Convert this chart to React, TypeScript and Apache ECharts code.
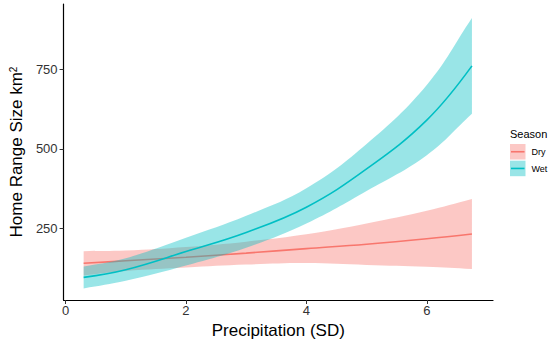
import React, { useEffect, useRef } from 'react';
import * as echarts from 'echarts';

// Precipitation (SD) positions at which the fitted curves were read
const precipitation = [0.3, 1, 2, 3, 4, 5, 6, 6.75];
// Dry season: fitted home range and confidence band
const dryFit = [141, 149, 160, 173, 187, 201, 218, 233];
const dryLower = [103, 117, 128, 137, 142, 136, 130, 123];
const dryUpper = [179, 181, 192, 209, 232, 266, 306, 343];
// Wet season: fitted home range and confidence band
const wetFit = [97, 121, 178, 238, 317, 437, 590, 760];
const wetLower = [62, 86, 134, 190, 266, 368, 480, 610];
const wetUpper = [131, 157, 221, 290, 376, 515, 700, 910];

const seasons = ['Dry', 'Wet'];
const seasonColors = ['#F8766D', '#00BFC4'];
const seasonFills = ['rgba(248,118,109,0.4)', 'rgba(0,191,196,0.4)'];
const xTicks = [0, 2, 4, 6];
const yTicks = [250, 500, 750];

const FONT = "'Liberation Sans', Arial, sans-serif";

export default function App() {
  const ref = useRef<HTMLDivElement>(null);

  useEffect(() => {
    if (!ref.current) return;
    const chart = echarts.init(ref.current, undefined, { renderer: 'svg' });

    const fits = [dryFit, wetFit];
    const lowers = [dryLower, wetLower];
    const uppers = [dryUpper, wetUpper];

    const series: any[] = [];
    seasons.forEach((s, idx) => {
      const lower = lowers[idx];
      const upper = uppers[idx];
      series.push({
        type: 'custom',
        name: s + ' band',
        z: idx * 2 + 1,
        silent: true,
        data: [[precipitation[0], lower[0]]],
        renderItem: (_params: any, api: any) => {
          const top = precipitation.map((x, i) => api.coord([x, upper[i]]));
          const bottom = precipitation.map((x, i) => api.coord([x, lower[i]])).reverse();
          const pts = [
            top[0],
            ...top,
            top[top.length - 1],
            bottom[0],
            ...bottom,
            bottom[bottom.length - 1],
          ];
          return {
            type: 'polygon',
            shape: { points: pts, smooth: 0.4 },
            style: { fill: seasonFills[idx], stroke: 'none' },
          };
        },
      });
      series.push({
        type: 'line',
        name: s,
        z: idx * 2 + 2,
        silent: true,
        smooth: 0.4,
        showSymbol: false,
        symbol: 'none',
        lineStyle: { color: seasonColors[idx], width: 1.6 },
        data: precipitation.map((x, i) => [x, fits[idx][i]]),
      });
    });

    const legendGraphics: any[] = [
      {
        type: 'text',
        left: 510,
        top: 128,
        style: { text: 'Season', font: `11px ${FONT}`, fill: '#000' },
      },
    ];
    seasons.forEach((s, idx) => {
      const y0 = 144 + idx * 16.7;
      legendGraphics.push({
        type: 'rect',
        shape: { x: 510, y: y0, width: 15.5, height: 15.5 },
        style: { fill: seasonFills[idx] },
      });
      legendGraphics.push({
        type: 'line',
        shape: { x1: 511, y1: y0 + 7.75, x2: 524.5, y2: y0 + 7.75 },
        style: { stroke: seasonColors[idx], lineWidth: 1.6 },
      });
      legendGraphics.push({
        type: 'text',
        x: 531.5,
        y: y0 + 8,
        style: {
          text: s,
          font: `9px ${FONT}`,
          fill: '#000',
          verticalAlign: 'middle',
          align: 'left',
        },
      });
    });

    chart.setOption({
      animation: false,
      backgroundColor: '#fff',
      textStyle: { fontFamily: FONT },
      grid: { left: 60, right: 57, top: 4, bottom: 44, containLabel: false },
      xAxis: {
        type: 'value',
        min: -0.033,
        max: 7.1,
        name: 'Precipitation (SD)',
        nameLocation: 'middle',
        nameGap: 17,
        nameTextStyle: { fontSize: 17, color: '#000', fontFamily: FONT },
        axisLine: { show: true, onZero: false, lineStyle: { color: '#000', width: 1.2 } },
        axisTick: { show: true, length: 4, customValues: xTicks, lineStyle: { color: '#333' } },
        axisLabel: {
          customValues: xTicks,
          fontSize: 13,
          color: '#333',
          margin: 4,
          fontFamily: FONT,
        },
        splitLine: { show: false },
      },
      yAxis: {
        type: 'value',
        min: 26,
        max: 954,
        name: 'Home Range Size km{sup|2}',
        nameLocation: 'middle',
        nameGap: 36,
        nameTextStyle: {
          fontSize: 17,
          color: '#000',
          fontFamily: FONT,
          rich: {
            sup: { fontSize: 10, verticalAlign: 'top', fontFamily: FONT, color: '#000' },
          },
        },
        axisLine: { show: true, onZero: false, lineStyle: { color: '#000', width: 1.2 } },
        axisTick: { show: true, length: 4, customValues: yTicks, lineStyle: { color: '#333' } },
        axisLabel: {
          customValues: yTicks,
          fontSize: 13,
          color: '#333',
          margin: 6,
          fontFamily: FONT,
        },
        splitLine: { show: false },
      },
      graphic: legendGraphics,
      series,
    });

    return () => chart.dispose();
  }, []);

  return (
    <div
      ref={ref}
      style={{ position: 'fixed', left: 0, top: 0, width: 550, height: 344, background: '#fff' }}
    />
  );
}
